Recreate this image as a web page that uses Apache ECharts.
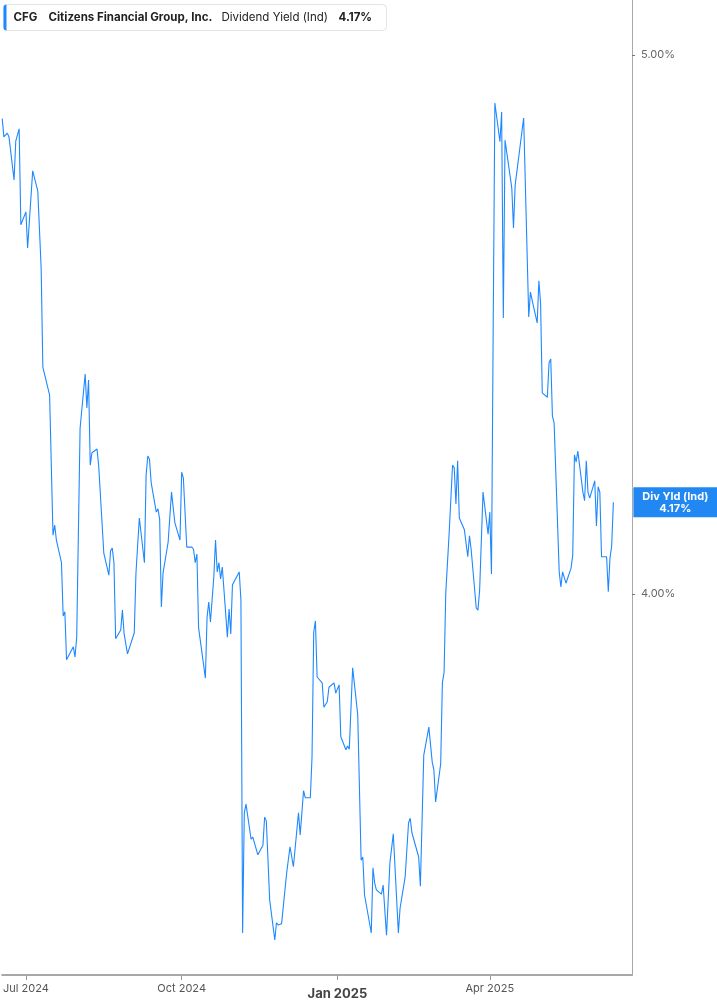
<!DOCTYPE html>
<html>
<head>
<meta charset="utf-8">
<script src="https://cdn.jsdelivr.net/npm/echarts@6/dist/echarts.min.js"></script>
<style>
html,body{margin:0;padding:0;background:#fff;}
#chart{width:717px;height:1005px;}
</style>
</head>
<body>
<div id="chart"></div>
<script>
var ticker = 'CFG';
var company = 'Citizens Financial Group, Inc.';
var metric = 'Dividend Yield (Ind)';
var shortMetric = 'Div Yld (Ind)';

var dates = [
'2024-06-17','2024-06-18','2024-06-20','2024-06-21','2024-06-24','2024-06-25','2024-06-27','2024-06-28',
'2024-07-01','2024-07-02','2024-07-05','2024-07-08','2024-07-10','2024-07-11','2024-07-12','2024-07-15',
'2024-07-17','2024-07-18','2024-07-19','2024-07-22','2024-07-23','2024-07-24','2024-07-25','2024-07-29',
'2024-07-30','2024-07-31','2024-08-02','2024-08-05','2024-08-06','2024-08-07','2024-08-08','2024-08-09',
'2024-08-12','2024-08-13','2024-08-16','2024-08-19','2024-08-20','2024-08-21','2024-08-22','2024-08-23',
'2024-08-26','2024-08-27','2024-08-28','2024-08-29','2024-08-30','2024-09-03','2024-09-04','2024-09-06',
'2024-09-09','2024-09-10','2024-09-11','2024-09-12','2024-09-13','2024-09-16','2024-09-17','2024-09-18',
'2024-09-19','2024-09-20','2024-09-23','2024-09-25','2024-09-27','2024-09-30','2024-10-01','2024-10-02',
'2024-10-03','2024-10-04','2024-10-07','2024-10-08','2024-10-09','2024-10-10','2024-10-11','2024-10-15',
'2024-10-16','2024-10-17','2024-10-18','2024-10-20','2024-10-21','2024-10-22','2024-10-23','2024-10-24',
'2024-10-25','2024-10-28','2024-10-29','2024-10-30','2024-10-31','2024-11-04','2024-11-05','2024-11-06',
'2024-11-07','2024-11-08','2024-11-11','2024-11-12','2024-11-15','2024-11-18','2024-11-19','2024-11-20',
'2024-11-22','2024-11-25','2024-11-26','2024-11-27','2024-11-29','2024-12-02','2024-12-04','2024-12-06',
'2024-12-09','2024-12-10','2024-12-12','2024-12-13','2024-12-16','2024-12-17','2024-12-18','2024-12-19',
'2024-12-20','2024-12-23','2024-12-24','2024-12-26','2024-12-27','2024-12-30','2024-12-31','2025-01-02',
'2025-01-03','2025-01-06','2025-01-07','2025-01-08','2025-01-10','2025-01-13','2025-01-15','2025-01-16',
'2025-01-17','2025-01-21','2025-01-22','2025-01-23','2025-01-24','2025-01-27','2025-01-28','2025-01-30',
'2025-02-01','2025-02-03','2025-02-06','2025-02-07','2025-02-10','2025-02-12','2025-02-13','2025-02-14',
'2025-02-18','2025-02-19','2025-02-21','2025-02-24','2025-02-25','2025-02-26','2025-02-27','2025-02-28',
'2025-03-03','2025-03-04','2025-03-05','2025-03-06','2025-03-08','2025-03-10','2025-03-11','2025-03-12',
'2025-03-13','2025-03-14','2025-03-17','2025-03-19','2025-03-20','2025-03-21','2025-03-24','2025-03-25',
'2025-03-26','2025-03-28','2025-03-31','2025-04-01','2025-04-02','2025-04-03','2025-04-04','2025-04-07',
'2025-04-08','2025-04-09','2025-04-10','2025-04-11','2025-04-14','2025-04-15','2025-04-16','2025-04-17',
'2025-04-21','2025-04-24','2025-04-25','2025-04-27','2025-04-29','2025-04-30','2025-05-01','2025-05-02',
'2025-05-05','2025-05-06','2025-05-07','2025-05-08','2025-05-09','2025-05-12','2025-05-13','2025-05-14',
'2025-05-16','2025-05-19','2025-05-20','2025-05-21','2025-05-22','2025-05-23','2025-05-26','2025-05-27',
'2025-05-28','2025-05-29','2025-05-30','2025-06-02','2025-06-03','2025-06-04','2025-06-05','2025-06-06',
'2025-06-09','2025-06-10','2025-06-11','2025-06-12','2025-06-13'
];

var yields = [
4.882,4.848,4.855,4.848,4.768,4.840,4.863,4.685,
4.709,4.642,4.785,4.748,4.605,4.421,4.419,4.369,
4.109,4.128,4.100,4.058,3.959,3.967,3.878,3.902,
3.883,3.920,4.308,4.408,4.345,4.397,4.239,4.262,
4.269,4.237,4.076,4.035,4.080,4.085,4.058,3.917,
3.933,3.970,3.926,3.928,3.889,3.928,4.039,4.141,
4.058,4.221,4.256,4.250,4.206,4.152,4.158,4.139,
3.976,4.039,4.096,4.189,4.132,4.100,4.226,4.215,
4.213,4.087,4.087,4.083,4.058,4.074,3.937,3.844,
3.957,3.985,3.948,4.032,4.100,4.041,4.058,4.028,
4.050,3.920,3.972,3.926,4.017,4.041,3.989,3.371,
3.594,3.610,3.545,3.549,3.516,3.534,3.586,3.579,
3.432,3.358,3.390,3.386,3.388,3.482,3.531,3.494,
3.594,3.553,3.635,3.622,3.622,3.698,3.929,3.950,
3.846,3.835,3.790,3.800,3.827,3.835,3.816,3.831,
3.735,3.711,3.718,3.712,3.863,3.776,3.506,3.512,
3.442,3.371,3.492,3.464,3.451,3.443,3.460,3.367,
3.501,3.555,3.371,3.417,3.475,3.575,3.584,3.557,
3.512,3.458,3.701,3.753,3.750,3.688,3.673,3.614,
3.685,3.835,3.855,4.002,4.113,4.239,4.234,4.167,
4.247,4.141,4.119,4.069,4.108,4.082,3.974,3.970,
4.007,4.189,4.111,4.152,4.037,4.490,4.911,4.839,
4.894,4.512,4.842,4.839,4.753,4.679,4.759,4.761,
4.883,4.514,4.560,4.531,4.503,4.581,4.540,4.373,
4.365,4.429,4.436,4.330,4.317,4.041,4.013,4.041,
4.020,4.048,4.072,4.258,4.245,4.265,4.189,4.173,
4.247,4.189,4.178,4.210,4.126,4.199,4.189,4.069,
4.069,4.004,4.067,4.089,4.17
];

var xTickDates = ['2024-07-01','2024-10-01','2025-01-01','2025-04-01'];
var xTickLabels = ['Jul 2024','Oct 2024','Jan 2025','Apr 2025'];
var yTickValues = [4, 5];
var xRange = ['2024-06-17','2025-06-24'];
var yRange = [3.2931, 5.1020];

function ts(s){ var p = s.split('-'); return Date.UTC(+p[0], +p[1]-1, +p[2]); }

var seriesData = dates.map(function(d,i){ return [ts(d), yields[i]]; });
var last = seriesData[seriesData.length-1];
var xTickTs = xTickDates.map(ts);

var chart = echarts.init(document.getElementById('chart'), null, {renderer:'canvas'});
var FONT = 'Inter, "Noto Sans", sans-serif';

chart.setOption({
  animation: false,
  backgroundColor: '#ffffff',
  grid: {left: 0, right: 85, top: 0, bottom: 30, containLabel: false},
  xAxis: {
    type: 'value',
    min: ts(xRange[0]),
    max: ts(xRange[1]),
    axisLine: {show: true, lineStyle: {color: '#a8a8a8', width: 2}},
    axisTick: {show: true, customValues: xTickTs, length: 5, lineStyle: {color: '#999', width: 1}},
    axisLabel: {
      show: true,
      customValues: xTickTs,
      margin: 8,
      color: '#555',
      fontFamily: FONT,
      fontSize: 11,
      formatter: function(v){
        var i = xTickTs.indexOf(v);
        var t = i >= 0 ? xTickLabels[i] : '';
        if (t.indexOf('Jan') === 0) return '{b|' + t + '}';
        return t;
      },
      rich: {b: {fontWeight: 'bold', fontSize: 13, color: '#444', fontFamily: FONT, padding: [5,0,0,0]}}
    },
    splitLine: {show: false}
  },
  yAxis: {
    type: 'value',
    position: 'right',
    min: yRange[0],
    max: yRange[1],
    axisLine: {show: true, lineStyle: {color: '#a8a8a8', width: 1}},
    axisTick: {show: true, customValues: yTickValues, length: 3, lineStyle: {color: '#777'}},
    axisLabel: {
      show: true,
      customValues: yTickValues,
      margin: 9,
      color: '#666',
      fontFamily: FONT,
      fontSize: 11,
      formatter: function(v){ return v.toFixed(2) + '%'; }
    },
    splitLine: {show: false}
  },
  series: [{
    type: 'line',
    data: seriesData,
    showSymbol: false,
    symbol: 'none',
    lineStyle: {color: '#1e88ff', width: 1.1},
    itemStyle: {color: '#1e88ff'},
    markPoint: {
      symbol: 'rect',
      symbolSize: [84, 30],
      symbolOffset: [62, 0],
      silent: true,
      itemStyle: {color: '#2188f3'},
      label: {
        show: true,
        position: 'inside',
        color: '#fff',
        fontWeight: 'bold',
        fontSize: 11,
        lineHeight: 12,
        fontFamily: FONT,
        formatter: function(p){ return shortMetric + '\n' + p.value.toFixed(2) + '%'; }
      },
      data: [{coord: last, value: last[1]}]
    }
  }],
  graphic: [{
    type: 'group',
    left: 3,
    top: 4,
    children: [
      {type: 'rect', shape: {x: 0, y: 0, width: 383, height: 26, r: 4}, style: {fill: '#fff', stroke: '#e4e4e4', lineWidth: 1}},
      {type: 'rect', shape: {x: 0, y: 0, width: 3, height: 26, r: [3,0,0,3]}, style: {fill: '#1a8cff'}},
      {type: 'text', x: 10, y: 13, style: {text: ticker, fill: '#222', font: 'bold 11.5px ' + FONT, textVerticalAlign: 'middle'}},
      {type: 'text', x: 45, y: 13, style: {text: company, fill: '#222', font: 'bold 11.5px ' + FONT, textVerticalAlign: 'middle'}},
      {type: 'text', x: 218, y: 13, style: {text: metric, fill: '#222', font: '11.5px ' + FONT, textVerticalAlign: 'middle'}},
      {type: 'text', x: 335, y: 13, style: {text: last[1].toFixed(2) + '%', fill: '#222', font: 'bold 11.5px ' + FONT, textVerticalAlign: 'middle'}}
    ]
  }]
});
</script>
</body>
</html>
